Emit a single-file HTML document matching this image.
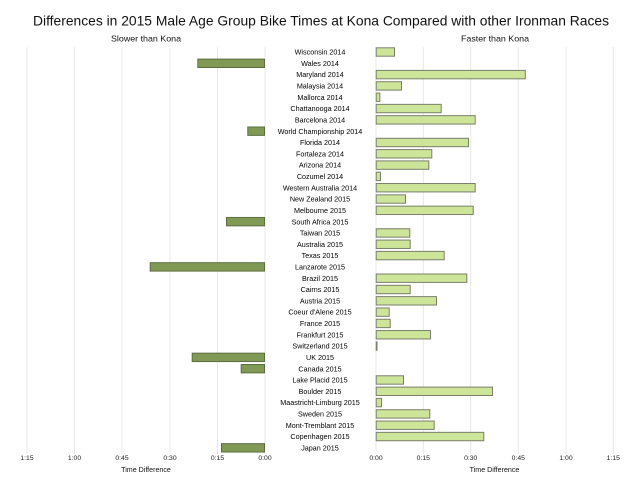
<!DOCTYPE html>
<html><head><meta charset="utf-8"><style>
html,body{margin:0;padding:0;background:#fff;}
svg{display:block;font-family:"Liberation Sans",Arial,sans-serif;}
.lb{font-size:7.2px;fill:#000;text-anchor:middle;}
.tk{font-size:6.8px;fill:#222;text-anchor:middle;}
.L{fill:#809a56;stroke:#5d6d40;stroke-width:1;}
.R{fill:#cde599;stroke:#7a7f6c;stroke-width:1;}
.g{stroke:#e8e8e8;stroke-width:1;}
</style></head><body>
<svg width="640" height="480" viewBox="0 0 640 480" xmlns="http://www.w3.org/2000/svg">
<rect width="640" height="480" fill="#fff"/>
<text x="321" y="25.7" font-size="14" fill="#111" text-anchor="middle" textLength="576" lengthAdjust="spacingAndGlyphs">Differences in 2015 Male Age Group Bike Times at Kona Compared with other Ironman Races</text>
<text x="146" y="41.5" font-size="8.3" fill="#111" text-anchor="middle" textLength="70" lengthAdjust="spacingAndGlyphs">Slower than Kona</text>
<text x="495" y="41.5" font-size="8.3" fill="#111" text-anchor="middle" textLength="68" lengthAdjust="spacingAndGlyphs">Faster than Kona</text>
<g class="g">
<line x1="27" y1="47" x2="27" y2="454"/><line x1="74.5" y1="47" x2="74.5" y2="454"/><line x1="122" y1="47" x2="122" y2="454"/><line x1="170" y1="47" x2="170" y2="454"/><line x1="217.5" y1="47" x2="217.5" y2="454"/><line x1="265" y1="47" x2="265" y2="454"/>
<line x1="376" y1="47" x2="376" y2="454"/><line x1="423.3" y1="47" x2="423.3" y2="454"/><line x1="470.7" y1="47" x2="470.7" y2="454"/><line x1="518.3" y1="47" x2="518.3" y2="454"/><line x1="566" y1="47" x2="566" y2="454"/><line x1="613.3" y1="47" x2="613.3" y2="454"/>
</g>
<g>
<rect class="R" x="376.2" y="47.8" width="18.3" height="8.4"/>
<rect class="L" x="197.8" y="59.11" width="66.7" height="8.4"/>
<rect class="R" x="376.2" y="70.42" width="149.1" height="8.4"/>
<rect class="R" x="376.2" y="81.73" width="25.3" height="8.4"/>
<rect class="R" x="376.2" y="93.04" width="3.6" height="8.4"/>
<rect class="R" x="376.2" y="104.35" width="65" height="8.4"/>
<rect class="R" x="376.2" y="115.66" width="99" height="8.4"/>
<rect class="L" x="247.8" y="126.97" width="16.7" height="8.4"/>
<rect class="R" x="376.2" y="138.28" width="92.3" height="8.4"/>
<rect class="R" x="376.2" y="149.59" width="55.6" height="8.4"/>
<rect class="R" x="376.2" y="160.9" width="52.6" height="8.4"/>
<rect class="R" x="376.2" y="172.21" width="4.3" height="8.4"/>
<rect class="R" x="376.2" y="183.52" width="99" height="8.4"/>
<rect class="R" x="376.2" y="194.83" width="29.3" height="8.4"/>
<rect class="R" x="376.2" y="206.14" width="97" height="8.4"/>
<rect class="L" x="226.5" y="217.45" width="38" height="8.4"/>
<rect class="R" x="376.2" y="228.76" width="33.6" height="8.4"/>
<rect class="R" x="376.2" y="240.07" width="34" height="8.4"/>
<rect class="R" x="376.2" y="251.38" width="68" height="8.4"/>
<rect class="L" x="150.2" y="262.69" width="114.3" height="8.4"/>
<rect class="R" x="376.2" y="274" width="90.6" height="8.4"/>
<rect class="R" x="376.2" y="285.31" width="34" height="8.4"/>
<rect class="R" x="376.2" y="296.62" width="60.3" height="8.4"/>
<rect class="R" x="376.2" y="307.93" width="13" height="8.4"/>
<rect class="R" x="376.2" y="319.24" width="14" height="8.4"/>
<rect class="R" x="376.2" y="330.55" width="54.3" height="8.4"/>
<rect class="R" x="376.2" y="341.86" width="0.8" height="8.4"/>
<rect class="L" x="192.2" y="353.17" width="72.3" height="8.4"/>
<rect class="L" x="241.2" y="364.48" width="23.3" height="8.4"/>
<rect class="R" x="376.2" y="375.79" width="27.3" height="8.4"/>
<rect class="R" x="376.2" y="387.1" width="116.3" height="8.4"/>
<rect class="R" x="376.2" y="398.41" width="5.3" height="8.4"/>
<rect class="R" x="376.2" y="409.72" width="53.6" height="8.4"/>
<rect class="R" x="376.2" y="421.03" width="58" height="8.4"/>
<rect class="R" x="376.2" y="432.34" width="107.6" height="8.4"/>
<rect class="L" x="221.5" y="443.65" width="43" height="8.4"/>
</g>
<g class="lb">
<text x="320" y="54.6">Wisconsin 2014</text>
<text x="320" y="65.91">Wales 2014</text>
<text x="320" y="77.22">Maryland 2014</text>
<text x="320" y="88.53">Malaysia 2014</text>
<text x="320" y="99.84">Mallorca 2014</text>
<text x="320" y="111.15">Chattanooga 2014</text>
<text x="320" y="122.46">Barcelona 2014</text>
<text x="320" y="133.77">World Championship 2014</text>
<text x="320" y="145.08">Florida 2014</text>
<text x="320" y="156.39">Fortaleza 2014</text>
<text x="320" y="167.7">Arizona 2014</text>
<text x="320" y="179.01">Cozumel 2014</text>
<text x="320" y="190.32">Western Australia 2014</text>
<text x="320" y="201.63">New Zealand 2015</text>
<text x="320" y="212.94">Melbourne 2015</text>
<text x="320" y="224.25">South Africa 2015</text>
<text x="320" y="235.56">Taiwan 2015</text>
<text x="320" y="246.87">Australia 2015</text>
<text x="320" y="258.18">Texas 2015</text>
<text x="320" y="269.49">Lanzarote 2015</text>
<text x="320" y="280.8">Brazil 2015</text>
<text x="320" y="292.11">Cairns 2015</text>
<text x="320" y="303.42">Austria 2015</text>
<text x="320" y="314.73">Coeur d'Alene 2015</text>
<text x="320" y="326.04">France 2015</text>
<text x="320" y="337.35">Frankfurt 2015</text>
<text x="320" y="348.66">Switzerland 2015</text>
<text x="320" y="359.97">UK 2015</text>
<text x="320" y="371.28">Canada 2015</text>
<text x="320" y="382.59">Lake Placid 2015</text>
<text x="320" y="393.9">Boulder 2015</text>
<text x="320" y="405.21">Maastricht-Limburg 2015</text>
<text x="320" y="416.52">Sweden 2015</text>
<text x="320" y="427.83">Mont-Tremblant 2015</text>
<text x="320" y="439.14">Copenhagen 2015</text>
<text x="320" y="450.45">Japan 2015</text>
</g>
<g class="tk">
<text x="27" y="460">1:15</text><text x="74.5" y="460">1:00</text><text x="122" y="460">0:45</text><text x="170" y="460">0:30</text><text x="217.5" y="460">0:15</text><text x="265" y="460">0:00</text>
<text x="376" y="460">0:00</text><text x="423.3" y="460">0:15</text><text x="470.7" y="460">0:30</text><text x="518.3" y="460">0:45</text><text x="566" y="460">1:00</text><text x="613.3" y="460">1:15</text>
</g>
<text x="146" y="471.8" font-size="7.1" fill="#111" text-anchor="middle">Time Difference</text>
<text x="494.5" y="471.8" font-size="7.1" fill="#111" text-anchor="middle">Time Difference</text>
</svg>
</body></html>
